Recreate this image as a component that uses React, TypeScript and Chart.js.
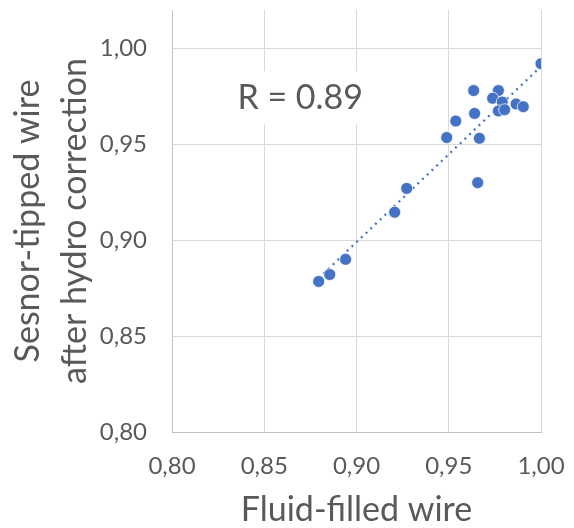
import React, { useEffect, useRef } from 'react';
import { Chart, registerables } from 'chart.js';

Chart.register(...registerables);

// Data
const fluidFilledWire = [
  1.0, 0.9635, 0.9769, 0.9738, 0.979, 0.9865, 0.9904, 0.9769, 0.9803, 0.964,
  0.9538, 0.9489, 0.9666, 0.9657, 0.9272, 0.9207, 0.8941, 0.8855, 0.8795,
];
const sensorTippedWire = [
  0.992, 0.978, 0.978, 0.974, 0.972, 0.971, 0.9696, 0.9674, 0.968, 0.9661,
  0.9621, 0.9535, 0.9531, 0.93, 0.927, 0.9146, 0.89, 0.8821, 0.8785,
];
const tickValues = [0.8, 0.85, 0.9, 0.95, 1.0];
const xTitle = 'Fluid-filled wire';
const yTitle = ['Sesnor-tipped wire', 'after hydro correction'];
const rLabel = 'R = 0.89';
const rLabelAnchor = { x: 0.8695, y: 0.974 };

const FONT = 'Lato, "Open Sans", sans-serif';
const TEXT = '#595959';
const BLUE = '#4472C4';

function linearFit(xs: number[], ys: number[]) {
  const n = xs.length;
  const mx = xs.reduce((a, b) => a + b, 0) / n;
  const my = ys.reduce((a, b) => a + b, 0) / n;
  let sxy = 0;
  let sxx = 0;
  for (let i = 0; i < n; i++) {
    sxy += (xs[i] - mx) * (ys[i] - my);
    sxx += (xs[i] - mx) * (xs[i] - mx);
  }
  const b = sxy / sxx;
  return { a: my - b * mx, b };
}

const fmt = (v: number) => v.toFixed(2).replace('.', ',');

export default function App() {
  const ref = useRef<HTMLCanvasElement>(null);

  useEffect(() => {
    if (!ref.current) return;
    const points = fluidFilledWire.map((x, i) => ({ x, y: sensorTippedWire[i] }));
    const fit = linearFit(fluidFilledWire, sensorTippedWire);
    const xmin = Math.min(...fluidFilledWire);
    const xmax = Math.max(...fluidFilledWire);
    const trend = [
      { x: xmin, y: fit.a + fit.b * xmin },
      { x: xmax, y: fit.a + fit.b * xmax },
    ];

    const labelPlugin = {
      id: 'rLabel',
      beforeDatasetsDraw(chart: any) {
        const { ctx, scales } = chart;
        const cx = scales.x.getPixelForValue(rLabelAnchor.x);
        const cy = scales.y.getPixelForValue(rLabelAnchor.y);
        ctx.save();
        ctx.font = `34px ${FONT}`;
        const w = ctx.measureText(rLabel).width;
        ctx.fillStyle = '#ffffff';
        ctx.fillRect(cx - w / 2 - 14, cy - 27, w + 28, 53);
        ctx.fillStyle = TEXT;
        ctx.textAlign = 'center';
        ctx.textBaseline = 'middle';
        ctx.fillText(rLabel, cx, cy);
        ctx.restore();
      },
    };

    const chart = new Chart(ref.current, {
      type: 'scatter',
      data: {
        datasets: [
          {
            type: 'line',
            data: trend,
            borderColor: BLUE,
            borderWidth: 2.25,
            borderDash: [2, 4.5],
            pointRadius: 0,
            fill: false,
            order: 2,
          } as any,
          {
            data: points,
            backgroundColor: BLUE,
            borderColor: '#ffffff',
            borderWidth: 0.75,
            pointRadius: 6,
            pointHoverRadius: 6,
            order: 1,
          },
        ],
      },
      options: {
        animation: false,
        responsive: false,
        devicePixelRatio: 1,
        layout: { padding: { top: 10, right: 33, bottom: 0, left: 0 } },
        plugins: { legend: { display: false }, tooltip: { enabled: false } },
        scales: {
          x: {
            type: 'linear',
            min: 0.8,
            max: 1.0,
            afterBuildTicks: (s: any) => {
              s.ticks = tickValues.map((v) => ({ value: v }));
            },
            ticks: {
              callback: (v: any) => fmt(Number(v)),
              font: { family: FONT, size: 24 },
              color: TEXT,
              padding: 20,
            },
            grid: { color: '#d9d9d9', lineWidth: 1, drawTicks: false },
            border: { color: '#bfbfbf', width: 1 },
            title: {
              display: true,
              text: xTitle,
              font: { family: FONT, size: 34, lineHeight: 1 },
              color: TEXT,
              padding: { top: 0, bottom: 1 },
            },
            afterFit: (s: any) => {
              s.height = 96;
              s.paddingLeft = 0;
              s.paddingRight = 0;
            },
          },
          y: {
            type: 'linear',
            min: 0.8,
            max: 1.02,
            afterBuildTicks: (s: any) => {
              s.ticks = tickValues.map((v) => ({ value: v }));
            },
            ticks: {
              callback: (v: any) => fmt(Number(v)),
              font: { family: FONT, size: 24 },
              color: TEXT,
              padding: 25,
            },
            grid: { color: '#d9d9d9', lineWidth: 1, drawTicks: false },
            border: { color: '#bfbfbf', width: 1 },
            title: {
              display: true,
              text: yTitle,
              font: { family: FONT, size: 34, lineHeight: 1.38 },
              color: TEXT,
              padding: { top: 5, bottom: 0 },
            },
            afterFit: (s: any) => {
              s.width = 172;
              s.paddingTop = 0;
              s.paddingBottom = 0;
            },
          },
        },
      },
      plugins: [labelPlugin],
    });
    return () => chart.destroy();
  }, []);

  return (
    <div style={{ position: 'absolute', left: 0, top: 0, width: 574, height: 528, background: '#fff' }}>
      <canvas ref={ref} width={574} height={528} style={{ display: 'block' }} />
    </div>
  );
}
